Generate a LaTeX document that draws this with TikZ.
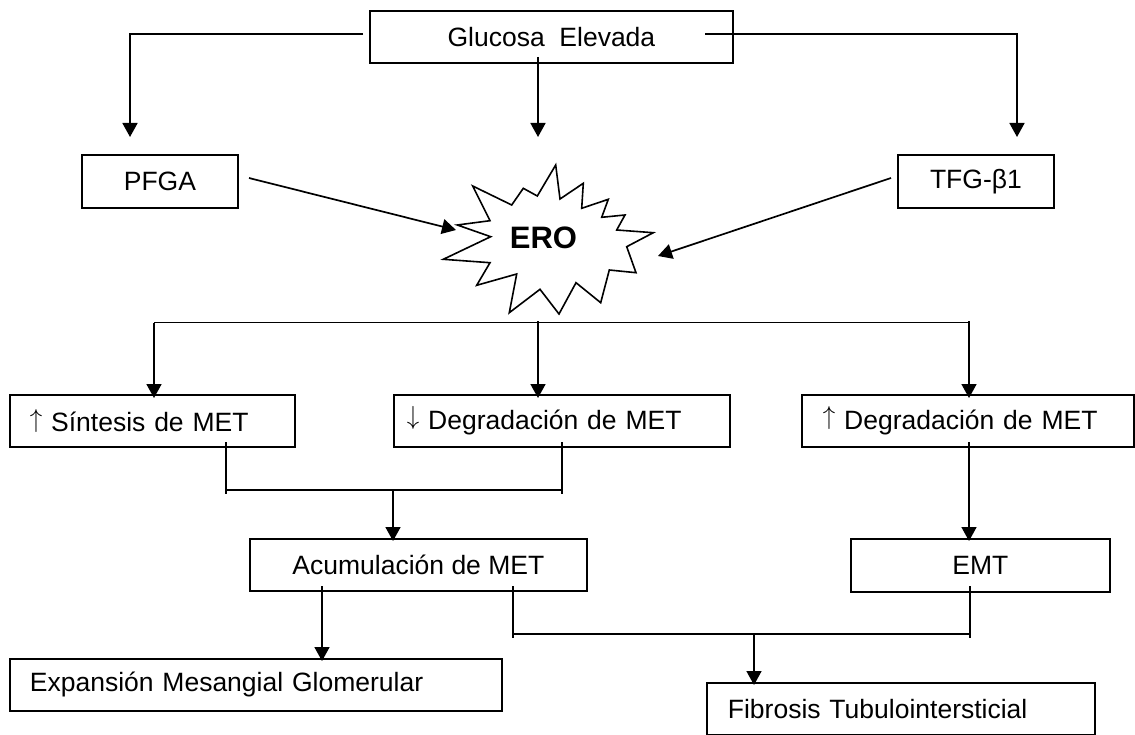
\documentclass[tikz,border=0pt]{standalone}
\usepackage{fontspec}
\usepackage{graphicx}
\setmainfont{Liberation Sans}
\usetikzlibrary{arrows.meta}
\newcommand\myuparr{\raisebox{0.17em}{\scalebox{1.0}[1.05]{$\uparrow$}}}
\newcommand\mydownarr{\raisebox{0.17em}{\scalebox{1.0}[1.05]{$\downarrow$}}}
\begin{document}
\begin{tikzpicture}[x=1pt,y=-1pt,
  box/.style={draw, line width=1.8pt, inner sep=0pt, anchor=north west,
    font=\fontsize{26.5}{30}\selectfont},
  lbox/.style={box, align=left},
  conn/.style={line width=1.8pt},
  tconn/.style={line width=1.3pt},
  arr/.style={line width=1.7pt, -{Triangle[length=14pt,width=15pt]}},
  starshape/.style={draw, line width=1.6pt, line join=miter, fill=white}]
\useasboundingbox (0,0) rectangle (1135,735);

% boxes
\node[box, minimum width=363pt, minimum height=52pt] (glu) at (369,10) {Glucosa\ \ Elevada};
\node[box, minimum width=156pt, minimum height=53pt] (pfga) at (81,154) {PFGA};
\node[box, minimum width=156pt, minimum height=53pt] (tfg) at (897,154) {TFG-β1};
\node[lbox, minimum width=285pt, minimum height=52pt, inner xsep=20pt, text width=245pt] (sin) at (9,394) {\myuparr\ Síntesis de MET};
\node[lbox, minimum width=336pt, minimum height=52pt, inner xsep=13pt, text width=310pt] (ddeg) at (393,394) {\mydownarr\ Degradación de MET};
\node[lbox, minimum width=332pt, minimum height=52pt, inner xsep=21pt, text width=290pt] (udeg) at (801,394) {\myuparr\ Degradación de MET};
\node[box, minimum width=337pt, minimum height=52pt] (acu) at (249,538) {Acumulación de MET};
\node[box, minimum width=259pt, minimum height=53pt] (emt) at (850,538) {EMT};
\node[lbox, minimum width=492pt, minimum height=52pt, inner xsep=20pt, text width=452pt] (exp) at (9,658) {Expansión Mesangial Glomerular};
\node[lbox, minimum width=388pt, minimum height=52pt, inner xsep=21pt, text width=346pt] (fib) at (706,682) {Fibrosis Tubulointersticial};

% star (ERO)
\draw[starshape] (555.7,165) -- (560,199) -- (583.3,183.3) -- (581.7,208.3) -- (608.3,199.3)
  -- (601.7,217.3) -- (625,215) -- (616.7,230) -- (653.3,232.7) -- (626.7,246.7)
  -- (636,272.7) -- (609.3,270) -- (600.7,302.7) -- (576,282.7) -- (559,314)
  -- (540,289.3) -- (509.3,312.7) -- (516.7,274) -- (476.7,285.3) -- (490,262.7)
  -- (443.3,259.3) -- (490.7,236.7) -- (457.3,225) -- (490,220.7) -- (472.7,186)
  -- (511.7,205) -- (523.3,188.3) -- (537.3,196) -- cycle;
\node[font=\fontsize{31}{34}\selectfont\bfseries] (ero) at (543.5,238) {ERO};

% coordinates
\coordinate (gl) at (363,34);
\coordinate (gr) at (705,34);
\coordinate (gc) at (538,57);
\coordinate (t1) at (130,137);
\coordinate (t2) at (538,137);
\coordinate (t3) at (1017,137);
\coordinate (ps) at (249,178);
\coordinate (pe) at (456,230);
\coordinate (ts) at (891,178);
\coordinate (te) at (658,256);
\coordinate (hL) at (154,322.5);
\coordinate (hC) at (538,321);
\coordinate (hR) at (969,322.5);
\coordinate (hRt) at (969,321);
\coordinate (d1) at (154,398);
\coordinate (d2) at (538,398);
\coordinate (d3) at (969,398);
\coordinate (b1a) at (226,442);
\coordinate (b1b) at (226,494);
\coordinate (b1c) at (562,442);
\coordinate (b1d) at (562,494);
\coordinate (b1l) at (226,490);
\coordinate (b1r) at (562,490);
\coordinate (b1m) at (393,490);
\coordinate (acuT) at (393,541);
\coordinate (udB) at (969,442);
\coordinate (emtT) at (969,541);
\coordinate (acB) at (322,586);
\coordinate (exT) at (322,661);
\coordinate (b2a) at (513,586);
\coordinate (b2b) at (513,638);
\coordinate (b2c) at (970,586);
\coordinate (b2d) at (970,638);
\coordinate (b2l) at (513,634);
\coordinate (b2r) at (970,634);
\coordinate (b2m) at (754,634);
\coordinate (fiT) at (754,685);

% connectors
\draw[conn] (gl) -| (130,120);
\draw[arr] (130,120) -- (t1);
\draw[conn] (gr) -| (1017,120);
\draw[arr] (1017,120) -- (t3);
\draw[arr] (gc) -- (t2);
\draw[arr] (ps) -- (pe);
\draw[arr] (ts) -- (te);

\draw[conn] (hL) -- (hR);
\draw[arr] (hL) -- (d1);
\draw[arr] (hC) -- (d2);
\draw[arr] (hRt) -- (d3);

\draw[tconn] (b1a) -- (b1b);
\draw[tconn] (b1c) -- (b1d);
\draw[conn] (b1l) -- (b1r);
\draw[arr] (b1m) -- (acuT);
\draw[arr] (udB) -- (emtT);

\draw[arr] (acB) -- (exT);
\draw[tconn] (b2a) -- (b2b);
\draw[tconn] (b2c) -- (b2d);
\draw[conn] (b2l) -- (b2r);
\draw[arr] (b2m) -- (fiT);
\end{tikzpicture}
\end{document}
